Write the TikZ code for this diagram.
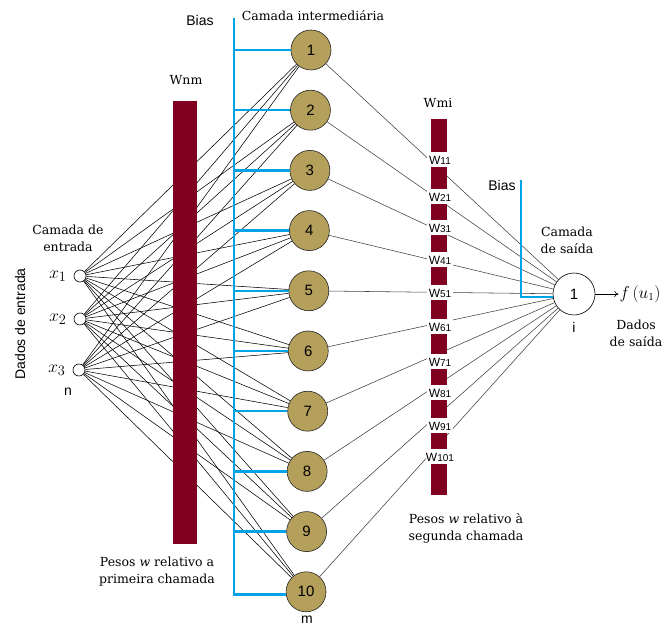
\documentclass[tikz,border=0pt]{standalone}
\usepackage{fontspec}
\setmainfont{DejaVu Serif}
\newfontfamily\arialf{Liberation Sans}
\usetikzlibrary{positioning,arrows.meta}
\definecolor{nnGold}{HTML}{B4A05A}
\definecolor{nnBlue}{HTML}{00A2E8}
\definecolor{nnWine}{HTML}{800020}
\tikzset{
  inp/.style={circle, draw=black, fill=white, minimum size=12pt, inner sep=0pt, line width=0.6pt},
  hid/.style={circle, draw=black!85, fill=nnGold, minimum size=40pt, inner sep=0pt, line width=0.6pt, font=\arialf\fontsize{15}{15}\selectfont},
  outn/.style={circle, draw=black, fill=white, minimum size=42pt, inner sep=0pt, line width=0.6pt, font=\arialf\fontsize{15}{15}\selectfont},
  syn/.style={draw=black, line width=0.55pt},
  synO/.style={draw=black!75, line width=0.55pt},
  bsl/.style={draw=nnBlue, line width=2.4pt},
  txt/.style={font=\fontsize{12.5}{17}\selectfont, align=center, inner sep=1pt},
  stxt/.style={font=\arialf\fontsize{14}{16}\selectfont, inner sep=1pt},
  mlbl/.style={font=\fontsize{19}{19}\selectfont, inner sep=0pt},
  wlbl/.style={fill=white, inner sep=0pt, minimum height=15pt, minimum width=26pt, font=\arialf\fontsize{12}{12}\selectfont},
  outarr/.style={-{To[length=4pt,width=6pt]}, line width=0.6pt},
}
\begin{document}
\begin{tikzpicture}[x=1pt,y=-1pt]
  \useasboundingbox (0,0) rectangle (665,628);
  % input layer
  \node[inp] (in1) at (80,276) {};
  \node[inp] (in2) at (80,319) {};
  \node[inp] (in3) at (79,370) {};
  \node[mlbl, left=7pt of in1] (lx1) {$x_1$};
  \node[mlbl, left=7pt of in2] (lx2) {$x_2$};
  \node[mlbl, left=7pt of in3] (lx3) {$x_3$};
  \node[stxt] (ln) at (68,392) {n};
  \node[txt] (tin) at (68,238) {Camada de\\entrada};
  \node[stxt, rotate=90] (tdin) at (20,324) {Dados de entrada};
  % hidden layer
  \foreach \i in {1,...,10} {
    \node[hid] (h\i) at ({311-0.55*(\i-1)}, {50+60.2*(\i-1)}) {\i};
  }
  \node[stxt] (lm) at (307,620) {m};
  \node[txt] (thid) at (313,16) {Camada intermediária};
  % output layer
  \node[outn] (out) at (574,294) {1};
  \node[stxt] (li) at (574,327) {i};
  \node[txt] (tout) at (567,240) {Camada\\de saída};
  \node[font=\fontsize{16}{16}\selectfont, inner sep=1pt] (fu) at (640,294) {$f\,(u_1)$};
  \node[txt] (tdout) at (636,333) {Dados\\de saída};
  \draw[outarr] (out) -- (fu);
  % input -> hidden
  \foreach \j in {1,2,3} {
    \foreach \i in {1,...,10} {
      \draw[syn] (in\j) -- (h\i);
    }
  }
  % first weights
  \fill[nnWine] (173,101) rectangle (197,544);
  \node[txt] (twnm) at (186,80) {Wnm};
  \node[txt] (tp1) at (157,572) {Pesos \textit{w} relativo a\\primeira chamada};
  % bias of hidden layer
  \coordinate (bh) at (234,18);
  \node[stxt] (tbh) at (200,21) {Bias};
  \draw[bsl] (bh) |- (h10.188);
  \foreach \i in {1,...,9} {
    \draw[bsl] (bh |- h\i.west) -- (h\i.west);
  }
  % hidden -> output
  \foreach \i in {1,...,10} {
    \draw[synO] (h\i) -- (out);
  }
  % second weights
  \fill[nnWine] (431,119) rectangle (447,495);
  \node[txt] (twmi) at (438,103) {Wmi};
  \foreach \i/\y in {1/160, 2/197, 3/228, 4/260, 5/293, 6/327, 7/362, 8/393, 9/426, 10/457} {
    \node[wlbl] (w\i) at (440,\y) {W{\fontsize{10}{10}\selectfont\i1}};
  }
  \node[txt] (tp2) at (466,528) {Pesos \textit{w} relativo à\\segunda chamada};
  % bias of output layer
  \coordinate (bo) at (521,180);
  \node[stxt] (tbo) at (502,185) {Bias};
  \draw[bsl] (bo) |- (out.188);
\end{tikzpicture}
\end{document}
